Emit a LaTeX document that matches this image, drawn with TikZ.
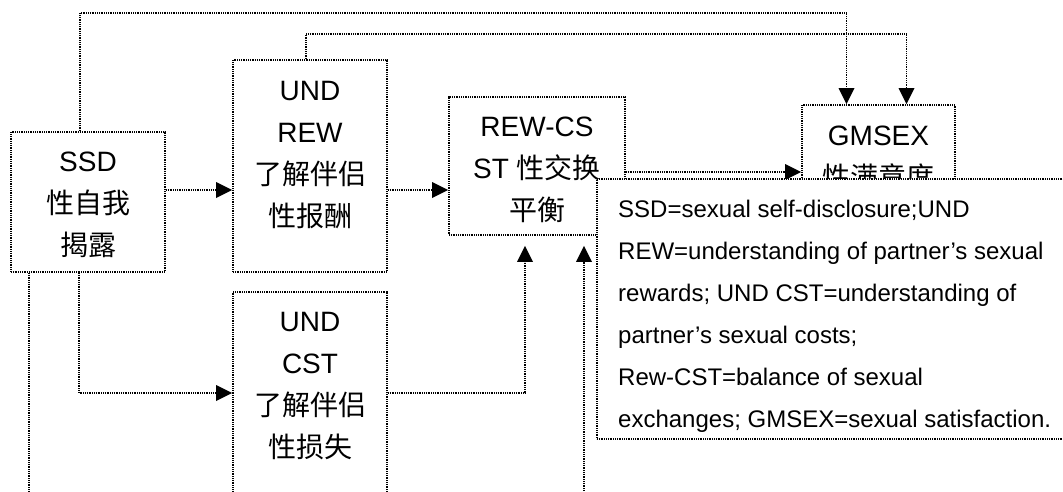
\documentclass[tikz,border=0pt]{standalone}
\usepackage{fontspec}
\setmainfont{Liberation Sans}
\newfontfamily\cjk{Noto Sans CJK SC}
\usetikzlibrary{arrows.meta,positioning}
\tikzset{
  dotline/.style={line width=1.8pt, dash pattern=on 1pt off 0.8pt},
  varbox/.style={dotline, draw, inner sep=0pt},
  boxtext/.style={align=center, font=\fontsize{28}{42}\selectfont, inner sep=0pt},
  legtext/.style={align=left, font=\fontsize{24}{42}\selectfont, inner sep=0pt, anchor=north west},
  flow/.style={dotline, -{Triangle[length=16pt,width=16pt,line width=0pt]}},
}

\begin{document}
\begin{tikzpicture}[x=1pt,y=-1pt]
    \useasboundingbox (0,0) rectangle (1063,491);
    \clip (0,0) rectangle (1063,491);

    % Variable boxes
    \node[varbox, minimum width=154pt, minimum height=140pt] (ssd) at (88,202) {};
    \node[varbox, minimum width=154pt, minimum height=212pt] (rew) at (310,166) {};
    \node[varbox, minimum width=154pt, minimum height=208pt] (cst) at (310,396) {};
    \node[varbox, minimum width=176pt, minimum height=138pt] (rcs) at (537,166) {};
    \node[varbox, minimum width=153pt, minimum height=106pt] (gms) at (878.5,158) {};

    % Box texts
    \node[boxtext] (ssdt) at (88,205) {SSD\\{\cjk 性自我}\\{\cjk 揭露}};
    \node[boxtext] (rewt) at (310,155) {UND\\REW\\{\cjk 了解伴侣}\\{\cjk 性报酬}};
    \node[boxtext] (cstt) at (310,386) {UND\\CST\\{\cjk 了解伴侣}\\{\cjk 性损失}};
    \node[boxtext] (rcst) at (537,170) {REW-CS\\ST {\cjk 性交换}\\{\cjk 平衡}};
    \node[boxtext] (gmst) at (878.5,158) {GMSEX\\{\cjk 性满意度}};

    % Paths
    \draw[flow] ([xshift=-8pt]ssd.north) -- ++(0,-118) -| ([xshift=-32pt]gms.north);
    \draw[flow] ([xshift=-4pt]rew.north) -- ++(0,-25) -| ([xshift=28pt]gms.north);
    \draw[flow] (ssd.east |- 0,190) -- (rew.west |- 0,190);
    \draw[flow] (rew.east |- 0,190) -- (rcs.west |- 0,190);
    \draw[flow] (rcs.east |- 0,172) -- (gms.west |- 0,172);
    \draw[flow] ([xshift=-9pt]ssd.south) |- (cst.west |- 0,393);
    \draw[flow, shorten >=10pt] (cst.east |- 0,393) -| ([xshift=-12pt]rcs.south);

    % Paths leaving the page
    \coordinate (offright) at (584,500);
    \coordinate (offleft) at (29,500);
    \draw[flow, shorten >=10pt] (offright) -- (offright |- rcs.south);
    \draw[dotline] (offleft |- ssd.south) -- (offleft);

    % Note box
    \node[varbox, fill=white, minimum width=478pt, minimum height=260pt] (note) at (836,309) {};
    \node[legtext] (notet) at (618,200) {SSD=sexual self-disclosure;UND\\
        REW=understanding of partner’s sexual\\
        rewards; UND CST=understanding of\\
        partner’s sexual costs;\\
        Rew-CST=balance of sexual\\
        exchanges; GMSEX=sexual satisfaction.};

\end{tikzpicture}
\end{document}
